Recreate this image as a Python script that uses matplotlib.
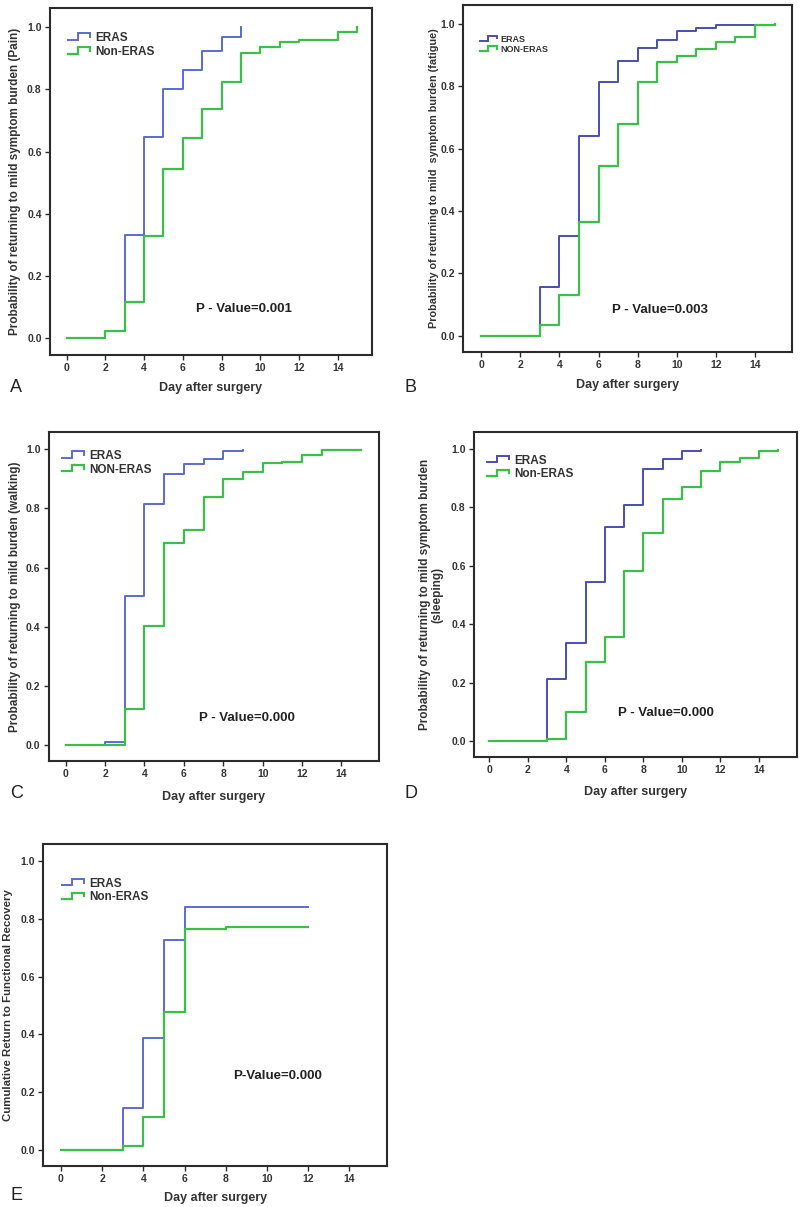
import matplotlib
matplotlib.use("Agg")
import matplotlib.pyplot as plt
from matplotlib.lines import Line2D
from matplotlib.legend_handler import HandlerBase

# ---------------- data ----------------
# Panel A (Pain)
a_eras_days = [0, 2, 3, 4, 5, 6, 7, 8, 9]
a_eras_prob = [0.0, 0.024, 0.332, 0.647, 0.800, 0.863, 0.924, 0.970, 1.0]
a_non_days = [0, 2, 3, 4, 5, 6, 7, 8, 9, 10, 11, 12, 14, 15]
a_non_prob = [0.0, 0.024, 0.115, 0.329, 0.543, 0.645, 0.737, 0.823, 0.916, 0.938, 0.952, 0.958, 0.986, 1.0]

# Panel B (fatigue)
b_eras_days = [0, 3, 4, 5, 6, 7, 8, 9, 10, 11, 12, 15]
b_eras_prob = [0.0, 0.155, 0.320, 0.640, 0.815, 0.881, 0.922, 0.947, 0.979, 0.988, 0.997, 0.997]
b_non_days = [0, 3, 4, 5, 6, 7, 8, 9, 10, 11, 12, 13, 14, 15]
b_non_prob = [0.0, 0.036, 0.130, 0.366, 0.545, 0.678, 0.815, 0.877, 0.898, 0.920, 0.943, 0.959, 0.997, 1.0]

# Panel C (walking)
c_eras_days = [0, 2, 3, 4, 5, 6, 7, 8, 9]
c_eras_prob = [0.0, 0.009, 0.505, 0.815, 0.917, 0.950, 0.967, 0.994, 0.997]
c_non_days = [0, 3, 4, 5, 6, 7, 8, 9, 10, 11, 12, 13, 15]
c_non_prob = [0.0, 0.122, 0.402, 0.684, 0.727, 0.837, 0.900, 0.924, 0.953, 0.958, 0.981, 0.996, 0.996]

# Panel D (sleeping)
d_eras_days = [0, 3, 4, 5, 6, 7, 8, 9, 10, 11]
d_eras_prob = [0.0, 0.211, 0.334, 0.546, 0.731, 0.808, 0.932, 0.965, 0.993, 0.996]
d_non_days = [0, 3, 4, 5, 6, 7, 8, 9, 10, 11, 12, 13, 14, 15]
d_non_prob = [0.0, 0.008, 0.100, 0.272, 0.357, 0.582, 0.713, 0.830, 0.869, 0.925, 0.954, 0.968, 0.994, 0.996]

# Panel E (functional recovery)
e_eras_days = [0, 3, 4, 5, 6, 12]
e_eras_prob = [0.0, 0.146, 0.389, 0.727, 0.842, 0.842]
e_non_days = [0, 3, 4, 5, 6, 8, 12]
e_non_prob = [0.0, 0.015, 0.113, 0.479, 0.764, 0.773, 0.773]

x_ticks = [0, 2, 4, 6, 8, 10, 12, 14]
y_ticks = [0.0, 0.2, 0.4, 0.6, 0.8, 1.0]

ylabels = [
    "Probability of returning to mild symptom burden (Pain)",
    "Probability of returning to mild  symptom burden (fatigue)",
    "Probability of returning to mild burden (walking)",
    "Probability of returning to mild symptom burden\n(sleeping)",
    "Cumulative Return to Functional Recovery",
]
legend_labels = [
    ("ERAS", "Non-ERAS"),
    ("ERAS", "NON-ERAS"),
    ("ERAS", "NON-ERAS"),
    ("ERAS", "Non-ERAS"),
    ("ERAS", "Non-ERAS"),
]
pvalues = ["P - Value=0.001", "P - Value=0.003", "P - Value=0.000", "P - Value=0.000", "P-Value=0.000"]
panel_letters = ["A", "B", "C", "D", "E"]
xlabel = "Day after surgery"

# ---------------- style ----------------
FONT = "Liberation Sans"
plt.rcParams["font.family"] = [FONT, "DejaVu Sans"]
BLUE_A = "#5b6bd0"
BLUE_B = "#4a4db0"
GREEN = "#3cbf4a"
FRAME = "#2b2b2b"


class StepHandler(HandlerBase):
    def create_artists(self, legend, orig_handle, xdescent, ydescent,
                       width, height, fontsize, trans):
        x0 = -xdescent
        y0 = -ydescent
        xm = x0 + 0.45 * width
        xs = [x0, xm, xm, x0 + width, x0 + width]
        ys = [y0 + 0.15 * height, y0 + 0.15 * height, y0 + 0.95 * height,
              y0 + 0.95 * height, y0 + 0.5 * height]
        ln = Line2D(xs, ys, color=orig_handle.get_color(),
                    lw=orig_handle.get_linewidth(), solid_joinstyle="miter")
        ln.set_transform(trans)
        return [ln]


fig = plt.figure(figsize=(8.0, 12.07), dpi=100)

# axes rectangles (left, bottom, width, height) in figure fraction
rects = [
    (0.0625, 0.7059, 0.4025, 0.2872),
    (0.579, 0.7084, 0.411, 0.2875),
    (0.061, 0.3695, 0.4125, 0.2726),
    (0.5925, 0.3728, 0.404, 0.2693),
    (0.054, 0.034, 0.430, 0.2668),
]
xlims = [(-0.86, 15.77), (-0.92, 15.89), (-0.86, 15.9), (-0.79, 15.98), (-0.86, 15.83)]
ylims = [(-0.054, 1.061), (-0.052, 1.061), (-0.054, 1.058), (-0.055, 1.058), (-0.055, 1.059)]
series = [
    (a_eras_days, a_eras_prob, a_non_days, a_non_prob, BLUE_A),
    (b_eras_days, b_eras_prob, b_non_days, b_non_prob, BLUE_B),
    (c_eras_days, c_eras_prob, c_non_days, c_non_prob, BLUE_A),
    (d_eras_days, d_eras_prob, d_non_days, d_non_prob, BLUE_B),
    (e_eras_days, e_eras_prob, e_non_days, e_non_prob, BLUE_A),
]
ptext_pos = [(9.16, 0.094), (9.15, 0.082), (9.19, 0.091), (9.16, 0.095), (10.5, 0.256)]
leg_fs = [8.5, 6.5, 8.5, 8.5, 8.5]
leg_anchor = [(0.04, 0.945), (0.04, 0.925), (0.025, 0.96), (0.025, 0.945), (0.04, 0.91)]
letter_pos = [(10, 388), (404, 388), (10, 793), (404, 793), (10, 1195)]
ylab_x = [-0.09, -0.073, -0.085, -0.096, -0.087]
ylab_fs = [8.5, 7.8, 8.5, 8.5, 8.2]
xlab_y = [-0.078, -0.078, -0.091, -0.089, -0.081]

for i in range(5):
    ax = fig.add_axes(rects[i])
    ed, ep, nd, npb, bcol = series[i]
    ax.step(ed, ep, where="post", color=bcol, lw=1.4, label=legend_labels[i][0], zorder=2)
    ax.step(nd, npb, where="post", color=GREEN, lw=1.6, label=legend_labels[i][1], zorder=3)
    ax.set_xlim(*xlims[i])
    ax.set_ylim(*ylims[i])
    ax.set_xticks(x_ticks)
    ax.set_yticks(y_ticks)
    ax.set_xticklabels([str(t) for t in x_ticks])
    ax.set_yticklabels([f"{t:.1f}" for t in y_ticks])
    for s in ax.spines.values():
        s.set_color(FRAME)
        s.set_linewidth(1.5)
    ax.tick_params(direction="out", length=3.5, width=1, color=FRAME,
                   labelsize=7.5, labelcolor="#333333", pad=2.5)
    for lab in ax.get_xticklabels() + ax.get_yticklabels():
        lab.set_fontweight("bold")
    ax.set_xlabel(xlabel, fontsize=9, fontweight="bold", color="#333333")
    ax.xaxis.set_label_coords(0.5, xlab_y[i])
    ax.set_ylabel(ylabels[i], fontsize=ylab_fs[i], fontweight="bold", color="#333333",
                  linespacing=1.0)
    ax.yaxis.set_label_coords(ylab_x[i], 0.5)
    ax.text(ptext_pos[i][0], ptext_pos[i][1], pvalues[i], fontsize=9.5,
            fontweight="bold", color="#222222", ha="center", va="center")
    leg = ax.legend(handler_map={Line2D: StepHandler()}, loc="upper left",
                    bbox_to_anchor=leg_anchor[i], frameon=False,
                    fontsize=leg_fs[i], handlelength=1.9, handletextpad=0.4,
                    labelspacing=0.15, borderaxespad=0.0)
    for t in leg.get_texts():
        t.set_fontweight("bold")
        t.set_color("#333333")
    fig.text(letter_pos[i][0] / 800, 1 - letter_pos[i][1] / 1207, panel_letters[i],
             fontsize=13, color="#222222", ha="left", va="center")

fig.savefig("out.png", dpi=100, facecolor="white")
